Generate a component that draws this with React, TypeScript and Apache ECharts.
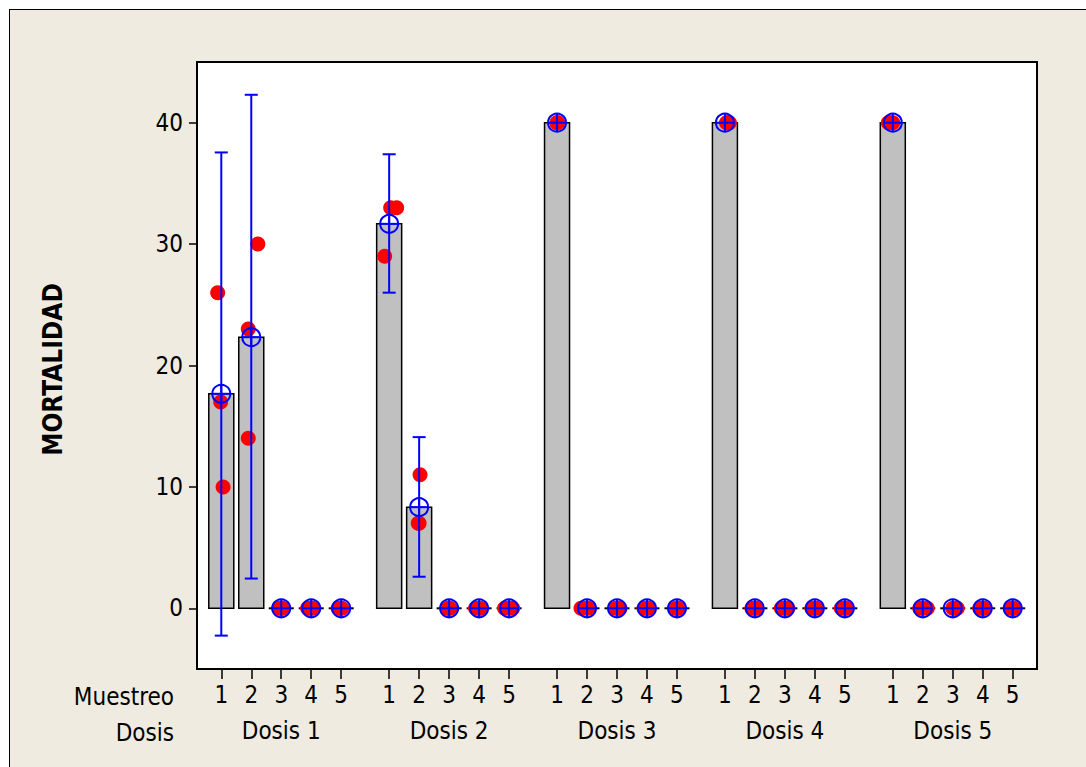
import React, { useEffect, useRef } from "react";
import * as echarts from "echarts";

// ---- data ----
const MUESTREO = ["1", "2", "3", "4", "5"];
const DOSIS = ["Dosis 1", "Dosis 2", "Dosis 3", "Dosis 4", "Dosis 5"];
const Y_TICKS = [0, 10, 20, 30, 40];

// mean mortality per cell (Dosis-major order, 5 Muestreo each)
const MEANS = [
  17.67, 22.33, 0, 0, 0,
  31.67, 8.33, 0, 0, 0,
  40, 0, 0, 0, 0,
  40, 0, 0, 0, 0,
  40, 0, 0, 0, 0,
];
// confidence interval bounds (null = no interval drawn)
const CI_LOW: (number | null)[] = [
  -2.25, 2.45, null, null, null,
  26.0, 2.6, null, null, null,
  null, null, null, null, null,
  null, null, null, null, null,
  null, null, null, null, null,
];
const CI_HIGH: (number | null)[] = [
  37.55, 42.3, null, null, null,
  37.4, 14.1, null, null, null,
  null, null, null, null, null,
  null, null, null, null, null,
  null, null, null, null, null,
];
// individual observations per cell
const OBS = [
  [26, 17, 10], [30, 23, 14], [0, 0, 0], [0, 0, 0], [0, 0, 0],
  [33, 33, 29], [11, 7, 7], [0, 0, 0], [0, 0, 0], [0, 0, 0],
  [40, 40, 40], [0, 0, 0], [0, 0, 0], [0, 0, 0], [0, 0, 0],
  [40, 40, 40], [0, 0, 0], [0, 0, 0], [0, 0, 0], [0, 0, 0],
  [40, 40, 40], [0, 0, 0], [0, 0, 0], [0, 0, 0], [0, 0, 0],
];
// horizontal jitter of observations (in slot units)
const JITTER = [
  [-0.12, -0.02, 0.06], [0.22, -0.1, -0.1], [-0.08, 0, 0.04], [-0.12, -0.02, 0.05], [-0.1, -0.02, 0.02],
  [0.05, 0.25, -0.15], [0.03, -0.03, 0], [-0.05, 0, 0.03], [-0.12, 0, 0.05], [-0.15, 0, 0.12],
  [0, 0, 0.02], [-0.2, -0.1, 0.05], [-0.05, 0.05, 0.1], [-0.1, 0, 0.05], [-0.05, 0, 0.05],
  [0.05, 0.15, 0.1], [-0.1, 0, 0.05], [-0.12, 0, 0.1], [-0.1, 0, 0.05], [-0.12, 0, 0.05],
  [-0.15, -0.08, 0], [-0.1, 0, 0.15], [0, 0.1, 0.15], [-0.1, 0, 0.05], [-0.05, 0, 0.05],
];

// ---- layout helpers ----
const GROUP_STEP = 5.6;
const slotPos = (i: number) => Math.floor(i / 5) * GROUP_STEP + (i % 5);
const TICK_POS = MEANS.map((_, i) => slotPos(i));
const GROUP_CENTERS = DOSIS.map((_, g) => g * GROUP_STEP + 2);
const X_MIN = -0.81;
const X_MAX = slotPos(24) + 0.81;

const FONT = '"DejaVu Sans Condensed", "DejaVu Sans", sans-serif';
const BLUE = "#0000FF";
const RED = "#FF0000";

function nearestIndex(arr: number[], v: number) {
  let best = 0;
  for (let i = 1; i < arr.length; i++) if (Math.abs(arr[i] - v) < Math.abs(arr[best] - v)) best = i;
  return best;
}

export default function App() {
  const ref = useRef<HTMLDivElement>(null);
  useEffect(() => {
    if (!ref.current) return;
    const chart = echarts.init(ref.current, undefined, { renderer: "svg" });

    const barData = MEANS.map((m, i) => [TICK_POS[i], m]);
    const pointData: number[][] = [];
    OBS.forEach((vals, i) => vals.forEach((v, k) => pointData.push([TICK_POS[i] + JITTER[i][k], v])));
    const errData: number[][] = [];
    MEANS.forEach((_, i) => {
      if (CI_LOW[i] != null && CI_HIGH[i] != null) errData.push([TICK_POS[i], CI_LOW[i] as number, CI_HIGH[i] as number]);
    });
    const meanData = MEANS.map((m, i) => [TICK_POS[i], m]);

    chart.setOption({
      animation: false,
      backgroundColor: "transparent",
      grid: {
        left: 197, right: 49, top: 62, bottom: 98,
        show: true, backgroundColor: "#FFFFFF", borderColor: "#000", borderWidth: 2,
      },
      xAxis: [
        {
          type: "value", min: X_MIN, max: X_MAX, position: "bottom",
          axisLine: { show: true, onZero: false, lineStyle: { color: "#000", width: 2 } },
          axisTick: { show: true, customValues: TICK_POS, length: 10, lineStyle: { color: "#000", width: 1.5 } },
          axisLabel: {
            show: true, customValues: TICK_POS, margin: 14, fontSize: 24, fontFamily: FONT, color: "#000",
            formatter: (v: number) => MUESTREO[nearestIndex(TICK_POS, v) % 5],
          },
          splitLine: { show: false },
        },
        {
          type: "value", min: X_MIN, max: X_MAX, position: "bottom",
          axisLine: { show: false, onZero: false }, axisTick: { show: false },
          axisLabel: {
            show: true, customValues: GROUP_CENTERS, margin: 50, fontSize: 24, fontFamily: FONT, color: "#000",
            formatter: (v: number) => DOSIS[nearestIndex(GROUP_CENTERS, v)],
          },
          splitLine: { show: false },
        },
      ],
      yAxis: {
        type: "value", min: -5, max: 45, position: "left",
        name: "MORTALIDAD", nameLocation: "middle", nameRotate: 90, nameGap: 131,
        nameTextStyle: { fontSize: 26, fontWeight: "bold", fontFamily: FONT, color: "#000", padding: [0, 8, 0, 0] },
        axisLine: { show: true, onZero: false, lineStyle: { color: "#000", width: 2 } },
        axisTick: { show: true, customValues: Y_TICKS, length: 8, lineStyle: { color: "#000", width: 1.5 } },
        axisLabel: { show: true, customValues: Y_TICKS, margin: 14, fontSize: 24, fontFamily: FONT, color: "#000" },
        splitLine: { show: false },
      },
      graphic: [
        { type: "text", x: 174, y: 697, style: { text: "Muestreo", font: `24px ${FONT}`, fill: "#000", textAlign: "right", textVerticalAlign: "middle" } },
        { type: "text", x: 174, y: 733, style: { text: "Dosis", font: `24px ${FONT}`, fill: "#000", textAlign: "right", textVerticalAlign: "middle" } },
      ],
      series: [
        {
          type: "custom", xAxisIndex: 0, data: barData, z: 2,
          renderItem: (params: any, api: any) => {
            const x = api.value(0), v = api.value(1);
            const p0 = api.coord([x, 0]);
            const p1 = api.coord([x, v]);
            const w = 25;
            if (v === 0) {
              return { type: "line", shape: { x1: p0[0] - w / 2, y1: p0[1], x2: p0[0] + w / 2, y2: p0[1] }, style: { stroke: "#000", lineWidth: 2 } };
            }
            return { type: "rect", shape: { x: p0[0] - w / 2, y: p1[1], width: w, height: p0[1] - p1[1] }, style: { fill: "#C0C0C0", stroke: "#000", lineWidth: 1.5 } };
          },
        },
        {
          type: "scatter", xAxisIndex: 0, data: pointData, symbol: "circle", symbolSize: 15, z: 3,
          itemStyle: { color: RED, opacity: 1 },
        },
        {
          type: "custom", xAxisIndex: 0, data: errData, z: 4,
          renderItem: (params: any, api: any) => {
            const x = api.value(0);
            const lo = api.coord([x, api.value(1)]);
            const hi = api.coord([x, api.value(2)]);
            const c = 6.5;
            const st = { stroke: BLUE, lineWidth: 2 };
            return {
              type: "group",
              children: [
                { type: "line", shape: { x1: lo[0], y1: lo[1], x2: hi[0], y2: hi[1] }, style: st },
                { type: "line", shape: { x1: lo[0] - c, y1: lo[1], x2: lo[0] + c, y2: lo[1] }, style: st },
                { type: "line", shape: { x1: hi[0] - c, y1: hi[1], x2: hi[0] + c, y2: hi[1] }, style: st },
              ],
            };
          },
        },
        {
          type: "custom", xAxisIndex: 0, data: meanData, z: 5,
          renderItem: (params: any, api: any) => {
            const p = api.coord([api.value(0), api.value(1)]);
            const r = 9;
            const st = { stroke: BLUE, lineWidth: 2, fill: "none" };
            return {
              type: "group",
              children: [
                { type: "circle", shape: { cx: p[0], cy: p[1], r }, style: st },
                { type: "line", shape: { x1: p[0] - r, y1: p[1], x2: p[0] + r, y2: p[1] }, style: { stroke: BLUE, lineWidth: 2 } },
                { type: "line", shape: { x1: p[0], y1: p[1] - r, x2: p[0], y2: p[1] + r }, style: { stroke: BLUE, lineWidth: 2 } },
              ],
            };
          },
        },
      ],
    });
    return () => chart.dispose();
  }, []);

  return (
    <div style={{ position: "fixed", left: 0, top: 0, width: 1086, height: 767, background: "#FFFFFF", overflow: "hidden" }}>
      <div style={{ position: "absolute", left: 9, top: 9, width: 1200, height: 900, background: "#EFEBE1", border: "1.5px solid #000" }} />
      <div ref={ref} style={{ position: "absolute", left: 0, top: 0, width: 1086, height: 767 }} />
    </div>
  );
}
